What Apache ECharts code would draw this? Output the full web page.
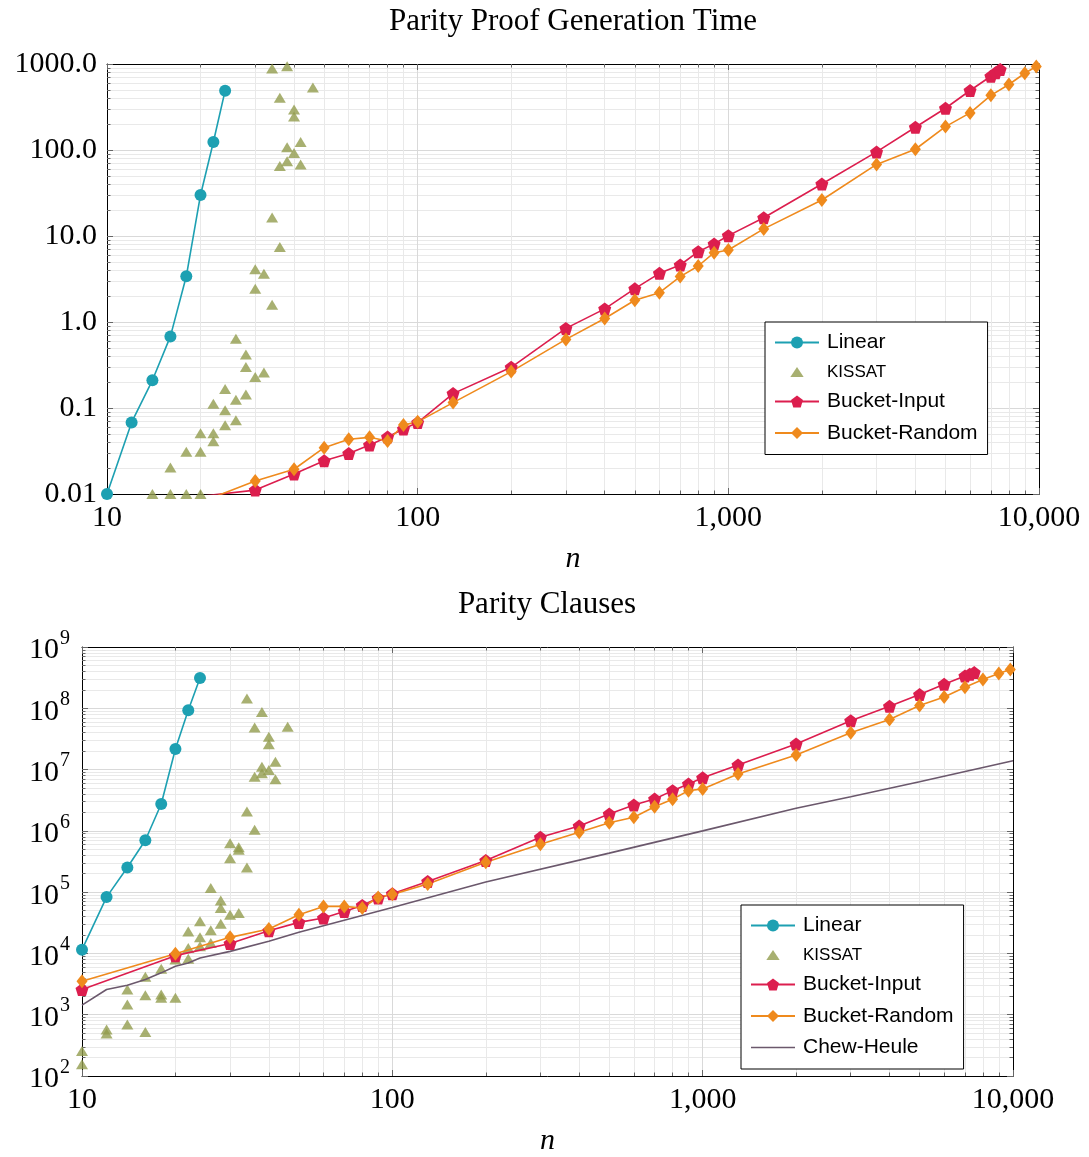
<!DOCTYPE html>
<html>
<head>
<meta charset="utf-8">
<title>Parity proofs</title>
<script src="https://cdn.jsdelivr.net/npm/echarts@6/dist/echarts.min.js"></script>
<style>
  html, body { margin: 0; padding: 0; background: #fff; }
  #chart { width: 1089px; height: 1157px; }
</style>
</head>
<body>
<div id="chart"></div>
<script>
// ---- data ----
const linearN = [10, 12, 14, 16, 18, 20, 22, 24];
const linearTime = [0.01, 0.068, 0.21, 0.68, 3.4, 30, 124, 490];
const linearClauses = [11500, 83000, 252000, 703000, 2.74e6, 2.16e7, 9.29e7, 3.13e8];

const kissatTimeN = [14, 16, 16, 18, 18, 20, 20, 20, 22, 22, 22, 24, 24, 24, 26, 26, 26, 28, 28, 28,
  30, 30, 30, 32, 32, 34, 34, 34, 36, 36, 36, 38, 38, 38, 40, 40, 40, 42, 42, 46];
const kissatTime = [0.01, 0.01, 0.0203, 0.01, 0.031, 0.01, 0.031, 0.051, 0.041, 0.051, 0.112,
  0.063, 0.094, 0.166, 0.072, 0.125, 0.64, 0.144, 0.30, 0.418, 0.229, 2.44, 4.1, 0.258, 3.65,
  1.59, 16.4, 885, 7.45, 65, 406, 74, 108, 940, 92, 246, 295, 68, 124, 532];

const kissatClauseN = [10, 10, 12, 12, 14, 14, 14, 16, 16, 16, 18, 18, 18, 20, 20, 22, 22, 22,
  24, 24, 24, 26, 26, 26, 28, 28, 28, 30, 30, 30, 32, 32, 32, 34, 34, 34, 36, 36, 36,
  38, 38, 38, 40, 40, 40, 42, 42, 46];
const kissatClauses = [155, 255, 495, 575, 695, 1470, 2580, 520, 2080, 4150, 1890, 2140, 5600,
  1890, 7940, 8150, 12300, 22900, 13100, 18300, 33400, 14800, 23800, 117000, 30600, 55000, 73300,
  42800, 358000, 628000, 45600, 490000, 540000, 252000, 2.06e6, 1.44e8, 1.04e6, 7.64e6, 4.85e7,
  8.67e6, 1.11e7, 8.73e7, 9.82e6, 2.6e7, 3.42e7, 6.92e6, 1.34e7, 4.98e7];

const inputN = [10, 20, 30, 40, 50, 60, 70, 80, 90, 100, 130, 200, 300, 400, 500, 600, 700, 800,
  900, 1000, 1300, 2000, 3000, 4000, 5000, 6000, 7000, 7250, 7500];
const inputTime = [0.002, 0.0094, 0.0111, 0.0171, 0.0244, 0.0295, 0.0371, 0.046, 0.057, 0.0677,
  0.147, 0.297, 0.843, 1.42, 2.44, 3.68, 4.6, 6.58, 8.07, 10.1, 16.3, 40.3, 95, 184, 306, 492,
  721, 791, 863];
const inputClauses = [2580, 9200, 14500, 23500, 32100, 37800, 48500, 60800, 80200, 94200, 149000,
  328000, 789000, 1.2e6, 1.89e6, 2.65e6, 3.31e6, 4.53e6, 5.82e6, 7.36e6, 1.19e7, 2.61e7, 6.24e7,
  1.08e8, 1.68e8, 2.47e8, 3.37e8, 3.6e8, 3.83e8];

const randomN = [10, 20, 30, 40, 50, 60, 70, 80, 90, 100, 130, 200, 300, 400, 500, 600, 700, 800,
  900, 1000, 1300, 2000, 3000, 4000, 5000, 6000, 7000, 8000, 9000, 9800];
const randomTime = [0.003, 0.008, 0.0142, 0.0194, 0.0346, 0.0433, 0.0456, 0.0413, 0.0634, 0.069,
  0.1156, 0.265, 0.628, 1.10, 1.79, 2.19, 3.37, 4.48, 6.4, 6.87, 12.1, 26.2, 68, 102, 187, 270,
  432, 578, 781, 935];
const randomClauses = [3520, 9900, 18300, 25000, 42800, 58500, 58500, 55100, 82000, 92000, 135500,
  308000, 607000, 951000, 1.36e6, 1.67e6, 2.48e6, 3.28e6, 4.53e6, 4.82e6, 8.46e6, 1.73e7, 3.98e7,
  6.58e7, 1.11e8, 1.53e8, 2.21e8, 2.94e8, 3.69e8, 4.29e8];

const chewN = [10, 12, 14, 16, 18, 20, 22, 24, 30, 40, 50, 100, 200, 500, 1000, 2000, 3000, 5000, 10000];
const chewClauses = [1430, 2580, 3020, 3750, 4820, 6180, 7000, 8450, 10800, 15800, 22100, 56000,
  146000, 433000, 1.0e6, 2.34e6, 3.61e6, 6.34e6, 1.39e7];

// ---- styling ----
const serif = 'Liberation Serif';
const sans = 'Liberation Sans';
const colLinear = '#1da0b2';
const colKissat = '#929c4e';
const colInput = '#dc1e4e';
const colRandom = '#ef8a1d';
const colChew = '#6b586c';
const pentagon = 'path://M0,-10L9.51,-3.09L5.88,8.09L-5.88,8.09L-9.51,-3.09Z';
// legend icons: padded triangle so it keeps a small size, plain bar for a line-only series
const triIcon = 'path://M0,-9L0,-9M0,-6L8,6L-8,6ZM0,9L0,9';
const barIcon = 'path://M0,0L44,0L44,1.6L0,1.6Z';

const zip = (xs, ys) => xs.map((x, i) => [x, ys[i]]);

function xAxisFor(grid, mirror) {
  return {
    type: 'log', logBase: 10, gridIndex: grid, min: 10, max: 10000,
    position: mirror ? 'top' : 'bottom',
    name: mirror ? '' : 'n', nameLocation: 'middle', nameGap: 50,
    nameTextStyle: {fontFamily: serif, fontStyle: 'italic', fontSize: 30, color: '#000'},
    axisLine: {show: true, onZero: false, lineStyle: {color: '#000', width: 1}},
    axisTick: {show: true, inside: true, length: 6, lineStyle: {color: '#666'}},
    minorTick: {show: true, splitNumber: 9, length: 3.5, lineStyle: {color: '#666'}},
    axisLabel: {show: !mirror, margin: 9, fontFamily: serif, fontSize: 30, color: '#000',
      formatter: v => v.toLocaleString('en-US')},
    splitLine: {show: !mirror, lineStyle: {color: '#d9d9d9'}},
    minorSplitLine: {show: !mirror, lineStyle: {color: '#e9e9e9'}}
  };
}

function yAxisFor(grid, mirror, min, max, label) {
  return {
    type: 'log', logBase: 10, gridIndex: grid, min, max,
    position: mirror ? 'right' : 'left',
    axisLine: {show: true, onZero: false, lineStyle: {color: '#000', width: 1}},
    axisTick: {show: true, inside: true, length: 6, lineStyle: {color: '#666'}},
    minorTick: {show: true, splitNumber: 9, length: 3.5, lineStyle: {color: '#666'}},
    axisLabel: Object.assign({show: !mirror, fontFamily: serif, fontSize: 30, color: '#000'}, label),
    splitLine: {show: !mirror, lineStyle: {color: '#d9d9d9'}},
    minorSplitLine: {show: !mirror, lineStyle: {color: '#e9e9e9'}}
  };
}

function lineSeries(name, xs, ys, grid, color, symbol, size, clip) {
  return {
    name, type: 'line', xAxisIndex: grid * 2, yAxisIndex: grid * 2,
    data: zip(xs, ys), symbol, symbolSize: size, showSymbol: symbol !== 'none', clip,
    lineStyle: {color, width: 1.6}, itemStyle: {color},
    emphasis: {disabled: true}
  };
}

function kissatSeries(xs, ys, grid) {
  return {
    name: 'KISSAT', type: 'scatter', xAxisIndex: grid * 2, yAxisIndex: grid * 2,
    data: zip(xs, ys), symbol: 'triangle', symbolSize: [12, 10], clip: false,
    itemStyle: {color: colKissat}, emphasis: {disabled: true}
  };
}

function legendFor(left, top, names) {
  return {
    orient: 'vertical', left, top, selectedMode: false,
    data: names.map(n => n === 'KISSAT' ? {name: n, icon: triIcon}
      : n === 'Chew-Heule' ? {name: n, icon: barIcon} : n),
    backgroundColor: '#fff', borderColor: '#000', borderWidth: 1, borderRadius: 0,
    padding: [10, 10, 11, 9], itemWidth: 44, itemHeight: 15, itemGap: 10.5,
    symbolKeepAspect: true,
    textStyle: {fontFamily: sans, fontSize: 21, color: '#000', padding: [0, 0, 0, 3],
      rich: {sc: {fontFamily: sans, fontSize: 17, color: '#000'}}},
    formatter: name => name === 'KISSAT' ? '{sc|KISSAT}' : name
  };
}

const chart = echarts.init(document.getElementById('chart'), null, {renderer: 'canvas'});

chart.setOption({
  animation: false,
  backgroundColor: '#fff',
  title: [
    {text: 'Parity Proof Generation Time', left: 573, top: 6, textAlign: 'center', padding: 0,
      textStyle: {fontFamily: serif, fontSize: 31, fontWeight: 'normal', color: '#000'}},
    {text: 'Parity Clauses', left: 547, top: 589, textAlign: 'center', padding: 0,
      textStyle: {fontFamily: serif, fontSize: 31, fontWeight: 'normal', color: '#000'}}
  ],
  grid: [
    {left: 107, right: 50, top: 64, height: 430},
    {left: 82, right: 76, top: 647, height: 430}
  ],
  xAxis: [xAxisFor(0, false), xAxisFor(0, true), xAxisFor(1, false), xAxisFor(1, true)],
  yAxis: [
    yAxisFor(0, false, 0.01, 1000, {margin: 10, formatter: v => v >= 1 ? v.toFixed(1) : String(v)}),
    yAxisFor(0, true, 0.01, 1000, {}),
    yAxisFor(1, false, 100, 1e9, {
      margin: 12,
      formatter: v => '{b|10}{s|' + Math.round(Math.log10(v)) + '}',
      rich: {
        b: {fontFamily: serif, fontSize: 30, color: '#000', padding: [7, 0, 0, 0]},
        s: {fontFamily: serif, fontSize: 20, color: '#000', verticalAlign: 'top', padding: [0, 0, 0, 1]}
      }
    }),
    yAxisFor(1, true, 100, 1e9, {})
  ],
  legend: [
    legendFor(765, 322, ['Linear', 'KISSAT', 'Bucket-Input', 'Bucket-Random']),
    legendFor(741, 905, ['Linear', 'KISSAT', 'Bucket-Input', 'Bucket-Random', 'Chew-Heule'])
  ],
  series: [
    lineSeries('Linear', linearN, linearTime, 0, colLinear, 'circle', 12, false),
    kissatSeries(kissatTimeN, kissatTime, 0),
    lineSeries('Bucket-Input', inputN, inputTime, 0, colInput, pentagon, 13, true),
    lineSeries('Bucket-Random', randomN, randomTime, 0, colRandom, 'diamond', [11, 14], true),

    lineSeries('Linear', linearN, linearClauses, 1, colLinear, 'circle', 12, false),
    kissatSeries(kissatClauseN, kissatClauses, 1),
    lineSeries('Bucket-Input', inputN, inputClauses, 1, colInput, pentagon, 13, true),
    lineSeries('Bucket-Random', randomN, randomClauses, 1, colRandom, 'diamond', [11, 14], true),
    lineSeries('Chew-Heule', chewN, chewClauses, 1, colChew, 'none', 0, true)
  ]
});
</script>
</body>
</html>
